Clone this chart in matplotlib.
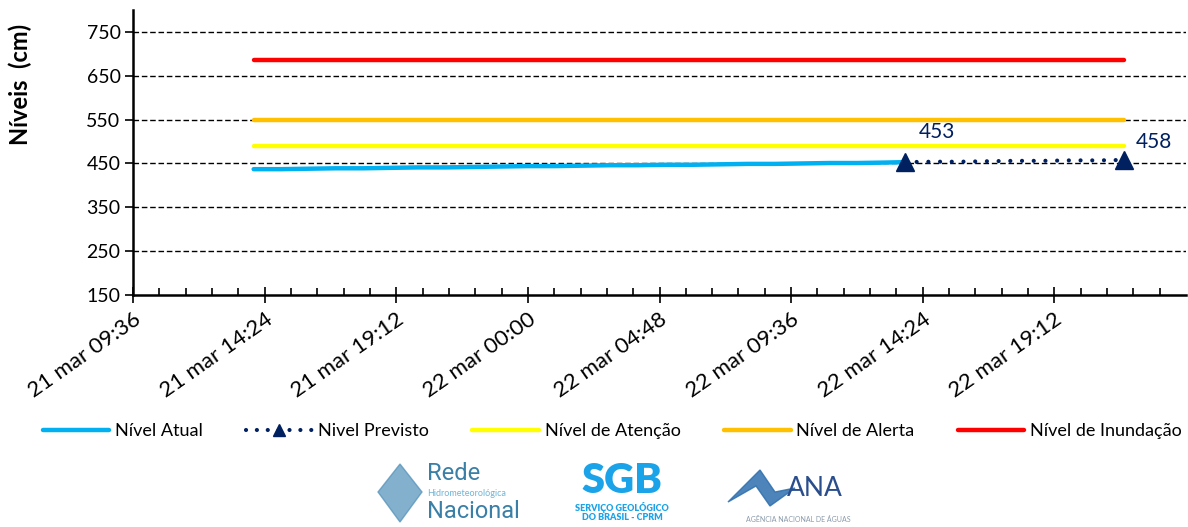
import datetime as dt
import matplotlib
matplotlib.use("Agg")
import matplotlib.pyplot as plt
from matplotlib.lines import Line2D
from matplotlib.patches import Polygon

plt.rcParams['font.family'] = ['Lato', 'DejaVu Sans']

# observed level, hourly from 21 mar 14:00, last reading 22 mar 13:45
obs_times = [dt.datetime(2024, 3, 21, 14) + dt.timedelta(hours=h) for h in range(24)]
obs_times.append(dt.datetime(2024, 3, 22, 13, 45))
obs_values = [437, 437, 438, 439, 439, 440, 441, 441, 442, 443, 444, 444, 445,
              446, 446, 447, 447, 448, 449, 449, 450, 451, 451, 452, 453]

# forecast, hourly from 22 mar 13:45
fc_times = [dt.datetime(2024, 3, 22, 13, 45) + dt.timedelta(hours=h) for h in range(9)]
fc_values = [453, 454, 454, 455, 456, 456, 457, 457, 458]

# reference levels
ref_times = [dt.datetime(2024, 3, 21, 14), dt.datetime(2024, 3, 22, 21, 45)]
atencao = [490, 490]
alerta = [550, 550]
inundacao = [686, 686]

tick_labels = ['21 mar 09:36', '21 mar 14:24', '21 mar 19:12', '22 mar 00:00',
               '22 mar 04:48', '22 mar 09:36', '22 mar 14:24', '22 mar 19:12']
y_ticks = [150, 250, 350, 450, 550, 650, 750]

C_ATUAL = '#00B0F0'
C_PREV = '#002060'
C_ATEN = '#FFFF00'
C_ALER = '#FFC000'
C_INUN = '#FF0000'

fig = plt.figure(figsize=(11.88, 5.27), dpi=100)
ax = fig.add_axes([133 / 1188, 1 - 295 / 527, (1186 - 133) / 1188, (295 - 10) / 527])

for yv in y_ticks[1:]:
    ax.axhline(yv, color='black', lw=1, ls=(0, (4, 2)), zorder=1)

lw = 3.2
ax.plot(ref_times, inundacao, color=C_INUN, lw=lw, solid_capstyle='round', zorder=3)
ax.plot(ref_times, alerta, color=C_ALER, lw=lw, solid_capstyle='round', zorder=3)
ax.plot(ref_times, atencao, color=C_ATEN, lw=lw, solid_capstyle='round', zorder=3)
ax.plot(obs_times, obs_values, color=C_ATUAL, lw=lw, solid_capstyle='round', zorder=4)
ax.plot(fc_times, fc_values, color=C_PREV, lw=3, ls=(0, (0.01, 2.8)),
        dash_capstyle='round', zorder=5)
ax.plot([fc_times[0], fc_times[-1]], [fc_values[0], fc_values[-1]], ls='none',
        marker='^', ms=13, color=C_PREV, zorder=6)

ax.annotate(str(fc_values[0]), (fc_times[0], fc_values[0]), xytext=(23, 22),
            textcoords='offset points', ha='center', va='center', fontsize=15, color=C_PREV)
ax.annotate(str(fc_values[-1]), (fc_times[-1], fc_values[-1]), xytext=(21, 13),
            textcoords='offset points', ha='center', va='center', fontsize=15, color=C_PREV)

start = dt.datetime(2024, 3, 21, 9, 36)
step = dt.timedelta(hours=4, minutes=48)
major = [start + i * step for i in range(len(tick_labels))]
minor = [start + i * step / 5 for i in range(5 * len(tick_labels))]
ax.set_xticks(major)
ax.set_xticklabels(tick_labels, rotation=35, ha='right', rotation_mode='anchor', fontsize=16)
ax.set_xticks(minor, minor=True)
ax.set_xlim(start, start + len(tick_labels) * step)
ax.set_yticks(y_ticks)
ax.set_ylim(150, 800)
ax.tick_params(axis='y', labelsize=14, length=6, width=1.2, direction='out', pad=3)
ax.tick_params(axis='x', which='major', direction='inout', length=12, width=1.2, pad=4)
ax.tick_params(axis='x', which='minor', direction='in', length=5, width=1.2)
for s in ['top', 'right']:
    ax.spines[s].set_visible(False)
for s in ['left', 'bottom']:
    ax.spines[s].set_linewidth(1.8)

fig.text(20 / 1188, 1 - 84 / 527, 'Níveis  (cm)', rotation=90, ha='center', va='center',
         fontsize=17, fontweight='bold')

handles = [
    Line2D([], [], color=C_ATUAL, lw=lw, solid_capstyle='round'),
    Line2D([], [], color=C_PREV, lw=3, ls=(0, (0.01, 2.6)), dash_capstyle='round',
           marker='^', ms=9),
    Line2D([], [], color=C_ATEN, lw=lw, solid_capstyle='round'),
    Line2D([], [], color=C_ALER, lw=lw, solid_capstyle='round'),
    Line2D([], [], color=C_INUN, lw=lw, solid_capstyle='round'),
]
labels = ['Nível Atual', 'Nivel Previsto', 'Nível de Atenção', 'Nível de Alerta', 'Nível de Inundação']
fig.legend(handles, labels, loc='center', bbox_to_anchor=(612 / 1188, 1 - 431 / 527), ncol=5,
           frameon=False, fontsize=13, handlelength=3.7, handletextpad=0.3,
           columnspacing=2.4, numpoints=1, borderpad=0, borderaxespad=0)

# logos drawn roughly as text
fig.patches.append(Polygon([[378 / 1188, 1 - 492 / 527], [400 / 1188, 1 - 464 / 527],
                            [422 / 1188, 1 - 492 / 527], [400 / 1188, 1 - 522 / 527]],
                           closed=True, transform=fig.transFigure, color='#4F8FB8', alpha=0.7))
fig.text(427 / 1188, 1 - 474 / 527, 'Rede', fontsize=17, color='#3B7FA6', va='center',
         family=['Roboto', 'DejaVu Sans'])
fig.text(427 / 1188, 1 - 494 / 527, 'Hidrometeorológica', fontsize=6.5, color='#6FB5D8', va='center')
fig.text(427 / 1188, 1 - 511 / 527, 'Nacional', fontsize=17, color='#3B7FA6', va='center',
         family=['Roboto', 'DejaVu Sans'])

fig.text(622 / 1188, 1 - 481 / 527, 'SGB', fontsize=30, color='#1AA3E8', ha='center', va='center',
         fontweight='heavy')
fig.text(622 / 1188, 1 - 512 / 527, 'SERVIÇO GEOLÓGICO\nDO BRASIL - CPRM', fontsize=6.5,
         color='#1AA3E8', ha='center', va='center', fontweight='heavy', linespacing=1.0)

fig.patches.append(Polygon([[728 / 1188, 1 - 502 / 527], [760 / 1188, 1 - 470 / 527],
                            [775 / 1188, 1 - 492 / 527], [795 / 1188, 1 - 488 / 527],
                            [770 / 1188, 1 - 506 / 527], [756 / 1188, 1 - 486 / 527]],
                           closed=True, transform=fig.transFigure, color='#2E6FAE', alpha=0.85))
fig.text(815 / 1188, 1 - 488 / 527, 'ANA', fontsize=19, color='#2A4E8C', ha='center', va='center')
fig.text(798 / 1188, 1 - 519 / 527, 'AGÊNCIA NACIONAL DE ÁGUAS', fontsize=5, color='#8A9AAA',
         ha='center', va='center')

fig.savefig('out.png', dpi=100)
